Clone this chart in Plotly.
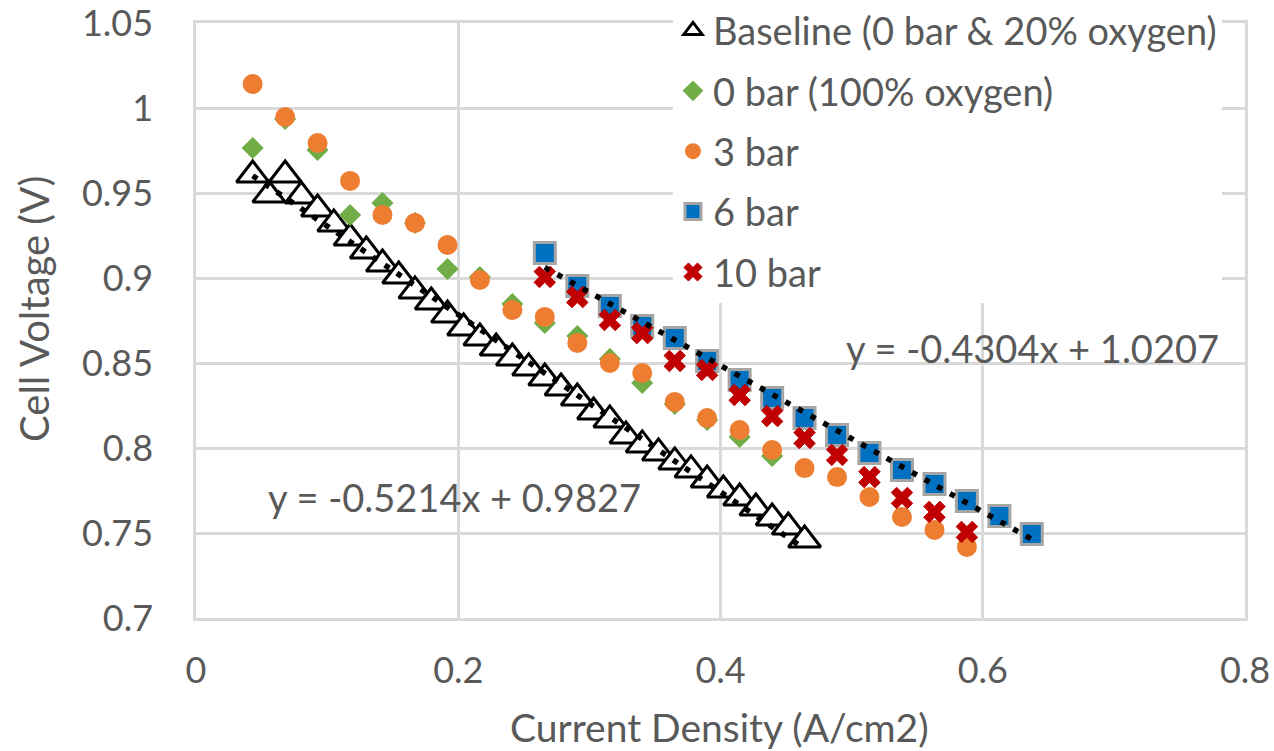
import plotly.graph_objects as go

# ---------------- data ----------------
baseline_x = [0.0432, 0.0556, 0.0680, 0.0803, 0.0927, 0.1051, 0.1175, 0.1299, 0.1422, 0.1546,
              0.1670, 0.1794, 0.1918, 0.2041, 0.2165, 0.2289, 0.2413, 0.2537, 0.2660, 0.2784,
              0.2908, 0.3032, 0.3156, 0.3279, 0.3403, 0.3527, 0.3651, 0.3775, 0.3898, 0.4022,
              0.4146, 0.4270, 0.4394, 0.4517, 0.4641]
baseline_y = [0.9606, 0.9488, 0.9606, 0.9482, 0.9406, 0.9318, 0.9235, 0.9159, 0.9082, 0.9012,
              0.8924, 0.8859, 0.8782, 0.8706, 0.8647, 0.8588, 0.8529, 0.8471, 0.8412, 0.8353,
              0.8294, 0.8212, 0.8165, 0.8071, 0.8018, 0.7971, 0.7918, 0.7871, 0.7812, 0.7753,
              0.7706, 0.7647, 0.7588, 0.7535, 0.7459]

o2_x = [0.0432, 0.0680, 0.0927, 0.1175, 0.1422, 0.1670, 0.1918, 0.2165, 0.2413, 0.2660,
        0.2908, 0.3156, 0.3403, 0.3651, 0.3898, 0.4146, 0.4394]
o2_y = [0.9765, 0.9935, 0.9753, 0.9371, 0.9441, 0.9324, 0.9053, 0.9006, 0.8847, 0.8735,
        0.8659, 0.8524, 0.8382, 0.8259, 0.8165, 0.8065, 0.7953]

bar3_x = [0.0432, 0.0680, 0.0927, 0.1175, 0.1422, 0.1670, 0.1918, 0.2165, 0.2413, 0.2660,
          0.2908, 0.3156, 0.3403, 0.3651, 0.3898, 0.4146, 0.4394, 0.4641, 0.4889, 0.5136,
          0.5384, 0.5632, 0.5879]
bar3_y = [1.0141, 0.9947, 0.9794, 0.9571, 0.9371, 0.9324, 0.9194, 0.8988, 0.8812, 0.8771,
          0.8618, 0.8500, 0.8441, 0.8271, 0.8176, 0.8106, 0.7988, 0.7882, 0.7829, 0.7712,
          0.7594, 0.7518, 0.7418]

bar6_x = [0.2660, 0.2908, 0.3156, 0.3403, 0.3651, 0.3898, 0.4146, 0.4394, 0.4641, 0.4889,
          0.5136, 0.5384, 0.5632, 0.5879, 0.6127, 0.6374]
bar6_y = [0.9147, 0.8953, 0.8835, 0.8718, 0.8647, 0.8512, 0.8400, 0.8294, 0.8176, 0.8076,
          0.7971, 0.7871, 0.7788, 0.7688, 0.7600, 0.7494]

bar10_x = [0.2660, 0.2908, 0.3156, 0.3403, 0.3651, 0.3898, 0.4146, 0.4394, 0.4641, 0.4889,
           0.5136, 0.5384, 0.5632, 0.5879]
bar10_y = [0.9006, 0.8888, 0.8753, 0.8676, 0.8512, 0.8459, 0.8312, 0.8188, 0.8059, 0.7959,
           0.7829, 0.7706, 0.7624, 0.7506]

series_names = ["Baseline (0 bar & 20% oxygen)", "0 bar (100% oxygen)", "3 bar", "6 bar", "10 bar"]

trend_base = (-0.5214, 0.9827)
trend_6bar = (-0.4304, 1.0207)
eq_base_text = "y = -0.5214x + 0.9827"
eq_6bar_text = "y = -0.4304x + 1.0207"

x_tickvals = [0, 0.2, 0.4, 0.6, 0.8]
x_ticktext = ["0", "0.2", "0.4", "0.6", "0.8"]
y_tickvals = [0.7, 0.75, 0.8, 0.85, 0.9, 0.95, 1.0, 1.05]
y_ticktext = ["0.7", "0.75", "0.8", "0.85", "0.9", "0.95", "1", "1.05"]

x_title = "Current Density (A/cm2)"
y_title = "Cell Voltage (V)"

# ---------------- figure ----------------
FONT = "Lato, Carlito, Calibri, sans-serif"
GREY_TXT = "#595959"
GRID = "#d9d9d9"
FS = 36

fig = go.Figure()

fig.add_trace(go.Scatter(
    x=baseline_x, y=baseline_y, mode="markers", name=series_names[0],
    legendgroup="g0",
    marker=dict(symbol="triangle-up", size=28, color="white",
                line=dict(color="black", width=3))))
fig.add_trace(go.Scatter(
    x=o2_x, y=o2_y, mode="markers", name=series_names[1], legendgroup="g1",
    marker=dict(symbol="diamond", size=17, color="#70ad47", line=dict(width=0))))
fig.add_trace(go.Scatter(
    x=bar3_x, y=bar3_y, mode="markers", name=series_names[2], legendgroup="g2",
    marker=dict(symbol="circle", size=20, color="#ed7d31", line=dict(width=0))))
fig.add_trace(go.Scatter(
    x=bar6_x, y=bar6_y, mode="markers", name=series_names[3], legendgroup="g3",
    marker=dict(symbol="square", size=21, color="#0070c0",
                line=dict(color="#a5a5a5", width=3))))
fig.add_trace(go.Scatter(
    x=bar10_x, y=bar10_y, mode="markers", name=series_names[4], legendgroup="g4",
    marker=dict(symbol="x", size=19, color="#c00000",
                line=dict(color="#c00000", width=1))))

# trendlines (linear fits shown on the chart)
for xs, (m, b) in [(baseline_x, trend_base), (bar6_x, trend_6bar)]:
    tx = [min(xs), max(xs)]
    ty = [m * v + b for v in tx]
    fig.add_trace(go.Scatter(
        x=tx, y=ty, mode="lines", showlegend=False, hoverinfo="skip",
        line=dict(color="black", width=5.5, dash="5.5px,9px")))

axis_common = dict(
    showgrid=True, gridcolor=GRID, gridwidth=2.5,
    showline=True, linecolor=GRID, linewidth=2.5, mirror=True,
    zeroline=False, ticks="", ticklabeloverflow="allow",
    tickfont=dict(family=FONT, size=FS, color=GREY_TXT),
)

fig.update_xaxes(range=[0, 0.8], tickvals=x_tickvals, ticktext=x_ticktext,
                 ticklabelstandoff=19, **axis_common)
fig.update_yaxes(range=[0.7, 1.05], tickvals=y_tickvals, ticktext=y_ticktext,
                 ticklabelstandoff=33, **axis_common)

annotations = [
    dict(text=eq_base_text, xref="x", yref="y", x=0.0534, y=0.771,
         xanchor="left", yanchor="middle", showarrow=False,
         font=dict(family=FONT, size=38, color=GREY_TXT)),
    dict(text=eq_6bar_text, xref="x", yref="y", x=0.4944, y=0.859,
         xanchor="left", yanchor="middle", showarrow=False,
         font=dict(family=FONT, size=38, color=GREY_TXT)),
    dict(text=x_title, xref="paper", yref="paper", x=0.4995, y=-0.184,
         xanchor="center", yanchor="middle", showarrow=False,
         font=dict(family=FONT, size=39, color=GREY_TXT)),
    dict(text=y_title, xref="paper", yref="paper", x=-0.155, y=0.52,
         xanchor="center", yanchor="middle", showarrow=False, textangle=-90,
         font=dict(family=FONT, size=40, color=GREY_TXT)),
]

fig.update_layout(
    width=1274, height=751,
    margin=dict(l=196, r=29, t=23, b=133, autoexpand=False),
    paper_bgcolor="white", plot_bgcolor="white",
    annotations=annotations,
    showlegend=True,
    legend=dict(
        x=0.4547, y=1.040, xanchor="left", yanchor="top",
        bgcolor="white", borderwidth=0,
        font=dict(family=FONT, size=38, color=GREY_TXT),
        traceorder="grouped", tracegroupgap=8,
        itemsizing="trace",
    ),
)

# remove the page's default body margin so the figure fills the window exactly
fig.write_html("out.html", config={"displayModeBar": False},
               post_script="document.body.style.margin='0';")
